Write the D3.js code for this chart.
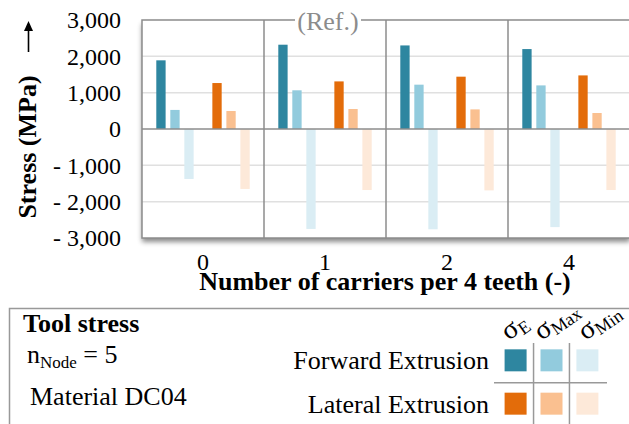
<!DOCTYPE html>
<html>
<head>
<meta charset="utf-8">
<script src="https://cdn.jsdelivr.net/npm/d3@7/dist/d3.min.js"></script>
<style>
  html, body { margin: 0; padding: 0; background: #fff; }
  svg { display: block; font-family: "Liberation Serif", "Times New Roman", serif; }
</style>
</head>
<body>
<svg id="chart" width="629" height="424"></svg>
<script>
// ---------- data ----------
const categories = ["0", "1", "2", "4"];
const seriesKeys = ["FE", "FMax", "FMin", "LE", "LMax", "LMin"];
const forwardE   = [1890, 2320, 2300, 2200];
const forwardMax = [525, 1065, 1220, 1200];
const forwardMin = [-1375, -2750, -2760, -2700];
const lateralE   = [1265, 1310, 1440, 1475];
const lateralMax = [495, 550, 540, 440];
const lateralMin = [-1650, -1680, -1690, -1680];
const yTicks = [-3000, -2000, -1000, 0, 1000, 2000, 3000];
const seriesColors = ["#2e86a0", "#92cbdd", "#daedf4", "#e36c0a", "#fac090", "#fde9d9"];
const refCategory = "1";
const legendRows = ["Forward Extrusion", "Lateral Extrusion"];
const legendCols = [["σ", "E"], ["σ", "Max"], ["σ", "Min"]];

const seriesValues = [forwardE, forwardMax, forwardMin, lateralE, lateralMax, lateralMin];

// ---------- layout ----------
const svg = d3.select("#chart");
const plot = { left: 142, right: 630, top: 20, bottom: 238 };
const gridColor = "#e0e0e0", frameColor = "#8c8c8c";

const x = d3.scaleBand().domain(categories).range([plot.left, plot.right]);
const slots = ["FE", "FMax", "FMin", "gap", "LE", "LMax", "LMin"];
const xi = d3.scaleBand().domain(slots).range([0, x.bandwidth()])
  .paddingInner(0.335).paddingOuter(1.02).align(0.5);
const y = d3.scaleLinear().domain([-3000, 3000]).range([plot.bottom, plot.top]);
const color = d3.scaleOrdinal().domain(seriesKeys).range(seriesColors);

// shadow filter
const defs = svg.append("defs");
const f = defs.append("filter").attr("id", "shadow").attr("x", "-5%").attr("y", "-5%").attr("width", "115%").attr("height", "125%");
f.append("feDropShadow").attr("dx", 0).attr("dy", 4).attr("stdDeviation", 2.5)
  .attr("flood-color", "#000").attr("flood-opacity", 0.45);

// plot background with shadow
svg.append("rect")
  .attr("x", plot.left).attr("y", plot.top)
  .attr("width", plot.right - plot.left).attr("height", plot.bottom - plot.top)
  .attr("fill", "#fff").attr("filter", "url(#shadow)");

// grid lines
svg.append("g").selectAll("line").data(yTicks.filter(d => d !== 0 && Math.abs(d) !== 3000))
  .join("line")
  .attr("x1", plot.left).attr("x2", plot.right)
  .attr("y1", d => y(d)).attr("y2", d => y(d))
  .attr("stroke", gridColor).attr("stroke-width", 1.5);

// bars
const barData = [];
categories.forEach((c, i) => {
  seriesKeys.forEach((k, j) => {
    barData.push({ cat: c, key: k, value: seriesValues[j][i] });
  });
});
svg.append("g").selectAll("rect").data(barData).join("rect")
  .attr("x", d => x(d.cat) + xi(d.key))
  .attr("width", xi.bandwidth())
  .attr("y", d => y(Math.max(0, d.value)))
  .attr("height", d => Math.abs(y(d.value) - y(0)))
  .attr("fill", d => color(d.key));

// zero line
svg.append("line")
  .attr("x1", plot.left).attr("x2", plot.right)
  .attr("y1", y(0)).attr("y2", y(0))
  .attr("stroke", frameColor).attr("stroke-width", 1.5);

// group separators
svg.append("g").selectAll("line").data(categories.slice(1)).join("line")
  .attr("x1", d => x(d)).attr("x2", d => x(d))
  .attr("y1", plot.top).attr("y2", plot.bottom)
  .attr("stroke", frameColor).attr("stroke-width", 1.5);

// frame
svg.append("rect")
  .attr("x", plot.left).attr("y", plot.top)
  .attr("width", plot.right - plot.left).attr("height", plot.bottom - plot.top)
  .attr("fill", "none").attr("stroke", frameColor).attr("stroke-width", 1.5);

// (Ref.) label
const refX = x(refCategory) + x.bandwidth() / 2 + 3;
svg.append("rect").attr("x", refX - 33).attr("y", plot.top - 6).attr("width", 66).attr("height", 12).attr("fill", "#fff");
svg.append("text").attr("x", refX).attr("y", 30)
  .attr("text-anchor", "middle").attr("font-size", 26).attr("fill", "#8c8c8c")
  .text("(Ref.)");

// y axis tick labels
const fmt = d3.format(",");
const yAxis = d3.axisLeft(y).tickValues(yTicks).tickSize(0).tickPadding(0)
  .tickFormat(d => d < 0 ? "- " + fmt(-d) : fmt(d));
const gy = svg.append("g").attr("transform", `translate(121,0)`).call(yAxis);
gy.select(".domain").remove();
gy.selectAll("text").attr("font-size", 24).attr("font-family", "Liberation Serif, serif").attr("fill", "#000");

// x axis tick labels
const xAxis = d3.axisBottom(x).tickSize(0).tickPadding(0);
const gx = svg.append("g").attr("transform", `translate(0,253)`).call(xAxis);
gx.select(".domain").remove();
gx.selectAll("text").attr("font-size", 24).attr("font-family", "Liberation Serif, serif").attr("fill", "#000").attr("dy", "0.71em");

// axis titles
svg.append("text").attr("x", 385).attr("y", 290)
  .attr("text-anchor", "middle").attr("font-size", 26).attr("font-weight", "bold")
  .text("Number of carriers per 4 teeth (-)");
svg.append("text").attr("transform", "translate(36,147) rotate(-90)")
  .attr("text-anchor", "middle").attr("font-size", 26).attr("font-weight", "bold")
  .text("Stress (MPa)");

// arrow
svg.append("line").attr("x1", 28.5).attr("x2", 28.5).attr("y1", 52).attr("y2", 28)
  .attr("stroke", "#000").attr("stroke-width", 1.6);
svg.append("path").attr("d", "M28.5,21 L24,31 L33,31 Z").attr("fill", "#000");

// ---------- legend ----------
const lg = svg.append("g");
lg.append("rect").attr("x", 9.5).attr("y", 308.5).attr("width", 640).attr("height", 140)
  .attr("fill", "none").attr("stroke", "#999").attr("stroke-width", 1.5);

lg.append("text").attr("x", 23).attr("y", 332).attr("font-size", 26).attr("font-weight", "bold").text("Tool stress");
const nt = lg.append("text").attr("x", 27).attr("y", 363).attr("font-size", 26);
nt.append("tspan").text("n");
nt.append("tspan").attr("font-size", 17).attr("dy", 5).text("Node");
nt.append("tspan").attr("dy", -5).text(" = 5");
lg.append("text").attr("x", 30).attr("y", 405).attr("font-size", 26).text("Material DC04");

const lx = d3.scaleBand().domain(legendCols.map(d => d[1])).range([498, 605]).paddingInner(0.38).paddingOuter(0.18);
const ly = d3.scaleBand().domain(legendRows).range([343, 421]).paddingInner(0.9).paddingOuter(0.35);
const lsq = 22;

legendRows.forEach((r, ri) => {
  lg.append("text").attr("x", 489).attr("y", ly(r) + ly.bandwidth() / 2 + 9)
    .attr("text-anchor", "end").attr("font-size", 26).text(r);
  legendCols.forEach((c, ci) => {
    lg.append("rect")
      .attr("x", lx(c[1]) + (lx.bandwidth() - lsq) / 2)
      .attr("y", ly(r) + (ly.bandwidth() - lsq) / 2)
      .attr("width", lsq).attr("height", lsq)
      .attr("fill", seriesColors[ri * 3 + ci]);
  });
});
// legend grid lines
const colEdges = legendCols.slice(1).map(c => lx(c[1]) - lx.step() * lx.paddingInner() / 2);
lg.selectAll(".vl").data(colEdges).join("line")
  .attr("x1", d => d).attr("x2", d => d).attr("y1", 343).attr("y2", 424)
  .attr("stroke", "#999").attr("stroke-width", 1.5);
lg.append("line").attr("x1", 494).attr("x2", 607).attr("y1", 382.7).attr("y2", 382.7)
  .attr("stroke", "#999").attr("stroke-width", 1.5);

// column headers
const headerShift = [4, 1, 9];
legendCols.forEach((c, ci) => {
  const hx = lx(c[1]) + (lx.bandwidth() - lsq) / 2 + headerShift[ci];
  const t = lg.append("text").attr("transform", `translate(${hx},341) rotate(-35)`).attr("font-size", 28);
  t.append("tspan").text(c[0]);
  t.append("tspan").attr("font-size", 18).attr("dy", 4).text(c[1]);
});
</script>
</body>
</html>
